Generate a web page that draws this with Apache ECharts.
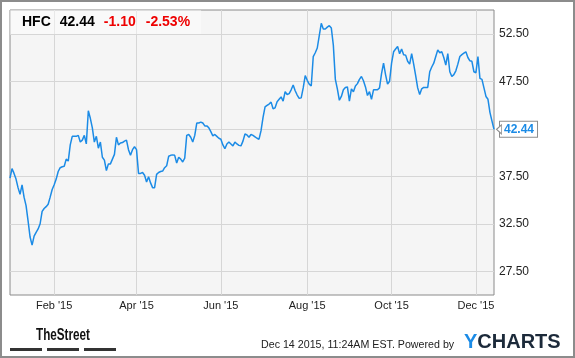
<!DOCTYPE html>
<html><head><meta charset="utf-8">
<script src="https://cdn.jsdelivr.net/npm/echarts@6/dist/echarts.min.js"></script>
<style>html,body{margin:0;padding:0;background:#fff}#c{width:575px;height:358px}</style>
</head><body><div id="c"></div>
<script>
const ticker = 'HFC';
const lastPrice = '42.44';
const change = '-1.10';
const changePct = '-2.53%';
const stamp = 'Dec 14 2015, 11:24AM EST. Powered by';
const prices = [
37.3, 38.3, 37.8, 37.2, 36.3, 35.6, 36.6, 35.3, 34.4, 32.8,
31.1, 30.25, 31.2, 31.6, 31.95, 32.5, 33.8, 34.1, 34.3, 34.55,
35.3, 36.1, 36.6, 37.2, 38.0, 38.4, 38.5, 38.55, 39.3, 39.1,
40.8, 41.7, 41.7, 41.7, 41.8, 41.1, 41.3, 41.8, 40.9, 44.4,
43.6, 42.6, 41.1, 41.7, 40.45, 41.1, 39.5, 39.2, 38.1, 38.8,
38.8, 39.3, 39.8, 41.6, 40.8, 41.0, 41.05, 41.2, 41.3, 40.3,
39.7, 40.3, 40.6, 40.3, 37.8, 37.8, 37.9, 37.6, 36.9, 37.45,
36.8, 36.3, 36.3, 37.7, 37.9, 38.0, 38.05, 38.4, 38.6, 39.6,
39.7, 39.75, 39.7, 38.9, 39.5, 39.3, 39.0, 39.4, 41.8, 41.9,
41.6, 41.1, 41.8, 43.1, 43.1, 43.2, 43.1, 42.8, 42.8, 42.6,
42.2, 41.75, 41.9, 41.7, 41.5, 41.4, 40.8, 40.4, 40.9, 41.1,
40.9, 40.7, 41.1, 40.9, 40.75, 40.7, 41.2, 41.95, 41.85, 41.6,
41.9, 41.8, 41.65, 41.5, 41.4, 42.3, 43.7, 44.8, 44.95, 45.1,
45.3, 44.6, 44.7, 45.35, 45.6, 45.85, 45.4, 46.4, 46.1, 46.2,
46.6, 47.1, 46.5, 46.05, 45.7, 45.75, 46.8, 48.1, 47.6, 47.2,
47.0, 50.1, 50.5, 51.0, 52.3, 53.6, 53.0, 53.0, 53.2, 53.35,
53.1, 51.3, 47.7, 46.7, 45.5, 45.9, 46.6, 46.85, 46.9, 45.4,
46.7, 46.4, 47.0, 47.25, 47.7, 48.0, 47.55, 46.9, 46.0, 46.4,
45.6, 46.6, 46.6, 46.6, 46.8, 48.3, 49.4, 48.2, 47.2, 47.5,
49.4, 50.6, 50.9, 51.15, 50.4, 50.9, 50.3, 50.25, 49.6, 49.3,
50.4, 49.3, 48.1, 46.8, 46.1, 46.7, 46.85, 46.85, 46.85, 48.5,
49.0, 49.4, 50.1, 50.8, 50.5, 50.6, 50.0, 49.2, 50.4, 48.5,
48.0, 48.2, 48.6, 49.3, 50.1, 50.3, 50.45, 50.6, 50.0, 49.65,
49.6, 48.5, 48.4, 50.1, 47.8, 47.7, 46.8, 45.9, 45.6, 44.2,
43.3, 42.44
];
const tickIdx = [22, 63, 105, 148, 190, 232];
const tickLabels = ["Feb '15", "Apr '15", "Jun '15", "Aug '15", "Oct '15", "Dec '15"];
const yTicks = [27.5, 32.5, 37.5, 42.5, 47.5, 52.5];

const FONT = '"Liberation Sans", Arial, sans-serif';
const BLUE = '#1b8be6';
const categories = prices.map((_, i) => String(i));
const showTick = (i) => tickIdx.indexOf(i) >= 0;

const chart = echarts.init(document.getElementById('c'), null, {renderer: 'canvas'});
chart.setOption({
  animation: false,
  backgroundColor: '#ffffff',
  textStyle: {fontFamily: FONT},
  title: {
    left: 10, top: 10,
    padding: [5, 11, 5, 12],
    backgroundColor: 'rgba(255,255,255,0.45)',
    text: '{t|' + ticker + '}{p|' + lastPrice + '}{c|' + change + '}{d|' + changePct + '}',
    textStyle: {
      rich: {
        t: {fontFamily: FONT, fontSize: 14, fontWeight: 'bold', color: '#000', lineHeight: 14, padding: [0, 9, 0, 0]},
        p: {fontFamily: FONT, fontSize: 14, fontWeight: 'bold', color: '#000', lineHeight: 14, padding: [0, 9, 0, 0]},
        c: {fontFamily: FONT, fontSize: 14, fontWeight: 'bold', color: '#ee0000', lineHeight: 14, padding: [0, 10, 0, 0]},
        d: {fontFamily: FONT, fontSize: 14, fontWeight: 'bold', color: '#ee0000', lineHeight: 14}
      }
    }
  },
  grid: {
    left: 10, top: 10, width: 484, height: 285,
    show: true, backgroundColor: '#f5f5f5', borderColor: '#8a8a8a', borderWidth: 1,
    containLabel: false
  },
  xAxis: {
    type: 'category',
    data: categories,
    boundaryGap: false,
    axisLine: {show: false},
    axisTick: {show: false},
    axisLabel: {
      interval: (i) => showTick(i),
      formatter: (v, i) => tickLabels[tickIdx.indexOf(i)] || '',
      color: '#222', fontSize: 11, fontFamily: FONT, margin: 5
    },
    splitLine: {show: true, interval: (i) => showTick(i), lineStyle: {color: '#d6d6d6', width: 1}}
  },
  yAxis: {
    type: 'value',
    position: 'right',
    min: 25, max: 55,
    axisLine: {show: false},
    axisTick: {show: false, customValues: yTicks},
    axisLabel: {customValues: yTicks, formatter: (v) => v.toFixed(2), color: '#222', fontSize: 12, fontFamily: FONT, margin: 5},
    splitLine: {show: true, lineStyle: {color: '#d6d6d6', width: 1}}
  },
  series: [{
    type: 'line',
    data: prices,
    symbol: 'none',
    lineStyle: {color: BLUE, width: 1.5},
    itemStyle: {color: BLUE},
    endLabel: {
      show: true,
      formatter: () => lastPrice,
      color: BLUE, fontWeight: 'bold', fontSize: 12, fontFamily: FONT,
      backgroundColor: '#fff', borderColor: '#8c8c8c', borderWidth: 1,
      padding: [2, 3, 1, 4], distance: 6
    },
    markPoint: {
      silent: true,
      symbol: 'triangle', symbolSize: [9, 5], symbolRotate: 90, symbolOffset: [5, 0],
      itemStyle: {color: '#fff', borderColor: '#8c8c8c', borderWidth: 1},
      label: {show: false},
      data: [{coord: [prices.length - 1, prices[prices.length - 1]]}]
    }
  }],
  graphic: [
    {type: 'rect', silent: true, shape: {x: 1, y: 1, width: 573, height: 356}, style: {fill: 'none', stroke: '#8c8c8c', lineWidth: 2}},
    {type: 'text', x: 36, y: 336, scaleX: 0.73, style: {text: 'TheStreet', font: 'bold 16px ' + FONT, fill: '#111', verticalAlign: 'middle'}},
    {type: 'rect', shape: {x: 10, y: 348, width: 32, height: 3}, style: {fill: '#333'}},
    {type: 'rect', shape: {x: 47, y: 348, width: 32, height: 3}, style: {fill: '#333'}},
    {type: 'rect', shape: {x: 84, y: 348, width: 32, height: 3}, style: {fill: '#333'}},
    {type: 'text', x: 261, y: 345, scaleX: 0.97, style: {text: stamp, font: '11px ' + FONT, fill: '#222', verticalAlign: 'middle'}},
    {type: 'text', x: 464, y: 342, style: {
      text: '{y|Y}{c|CHARTS}', verticalAlign: 'middle',
      rich: {
        y: {font: 'bold 20px ' + FONT, fill: BLUE},
        c: {font: 'bold 20px ' + FONT, fill: '#1c2a3a'}
      }
    }}
  ]
});
</script>
</body></html>
